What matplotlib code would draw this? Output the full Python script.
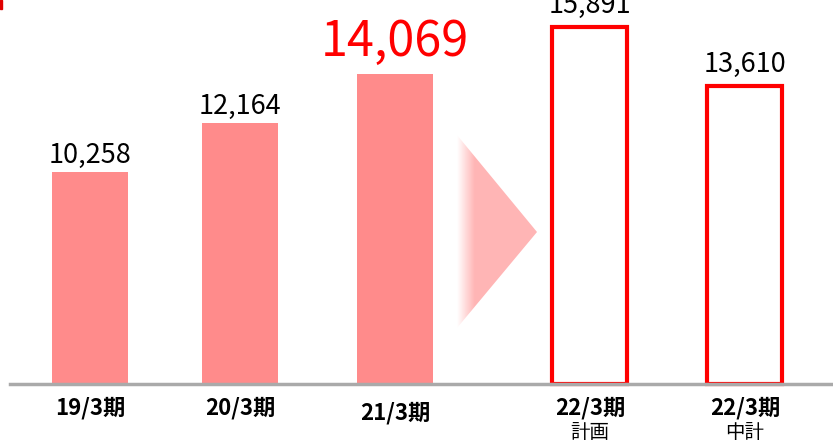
import numpy as np
import matplotlib
matplotlib.use("Agg")
import matplotlib.pyplot as plt
from matplotlib.patches import Polygon, Rectangle

plt.rcParams['font.family'] = ['Noto Sans CJK JP', 'DejaVu Sans']

# data
periods = ['19/3期', '20/3期', '21/3期', '22/3期', '22/3期']
notes = ['', '', '', '計画', '中計']
values = [10258, 12164, 14069, 15891, 13610]
labels = ['10,258', '12,164', '14,069', '15,891', '13,610']
filled = [True, True, True, False, False]

# layout (pixel based)
W, H = 833, 447
xpos = [90, 240, 395, 590, 745]
base = 2020          # value sitting on the grey baseline
k = 0.02574          # pixels per unit
base_px = 384

def py(p):
    # pixel row -> data value
    return base + (base_px - p) / k

fig = plt.figure(figsize=(W / 100, H / 100), dpi=100)
ax = fig.add_axes([0, 0, 1, 1])
ax.set_xlim(0, W)
ax.set_ylim(py(H), py(0))
ax.axis('off')

for x, v, lab, f in zip(xpos, values, labels, filled):
    if f:
        ax.bar(x, v - base, bottom=base, width=76, color='#ff8b8b', zorder=2)
        off = 6.5
    else:
        ax.bar(x, v - base, bottom=base, width=75, facecolor='white',
               edgecolor='#ff0000', linewidth=3, zorder=2)
        off = 10
    if lab == '14,069':
        ax.annotate(lab, (x, v), xytext=(0, 13), textcoords='offset points',
                    ha='center', va='baseline', fontsize=35, color='#ff0000')
    else:
        ax.annotate(lab, (x, v), xytext=(0, off), textcoords='offset points',
                    ha='center', va='baseline', fontsize=19.5, color='black')

# baseline
ax.plot([10, W], [base, base], color='#aaaaaa', linewidth=2.5, zorder=3)

# category labels
for i, (x, p, n) in enumerate(zip(xpos, periods, notes)):
    yy = 413 if i == 2 else 408
    ax.text(x, py(yy), p, ha='center', va='center', fontsize=16,
            fontweight='bold', color='black')
    if n:
        ax.text(x, py(433), n, ha='center', va='center', fontsize=14,
                color='black')

# gradient arrow
tri = Polygon([(457, py(135)), (537, py(232)), (457, py(328))],
              closed=True, facecolor='none', edgecolor='none',
              transform=ax.transData)
ax.add_patch(tri)
xs = np.linspace(0, 1, 200)
alpha = np.clip(xs / 0.22, 0, 1)
img = np.zeros((2, 200, 4))
img[..., 0] = 1.0
img[..., 1] = 0.71
img[..., 2] = 0.71
img[..., 3] = alpha
im = ax.imshow(img, extent=(457, 537, py(328), py(135)), aspect='auto',
               interpolation='bilinear', zorder=1)
im.set_clip_path(tri)

# small red mark top-left
ax.add_patch(Rectangle((0, py(9)), 2.5, py(0) - py(9), color='#e00000',
                       clip_on=False))

fig.savefig('out.png', dpi=100)
